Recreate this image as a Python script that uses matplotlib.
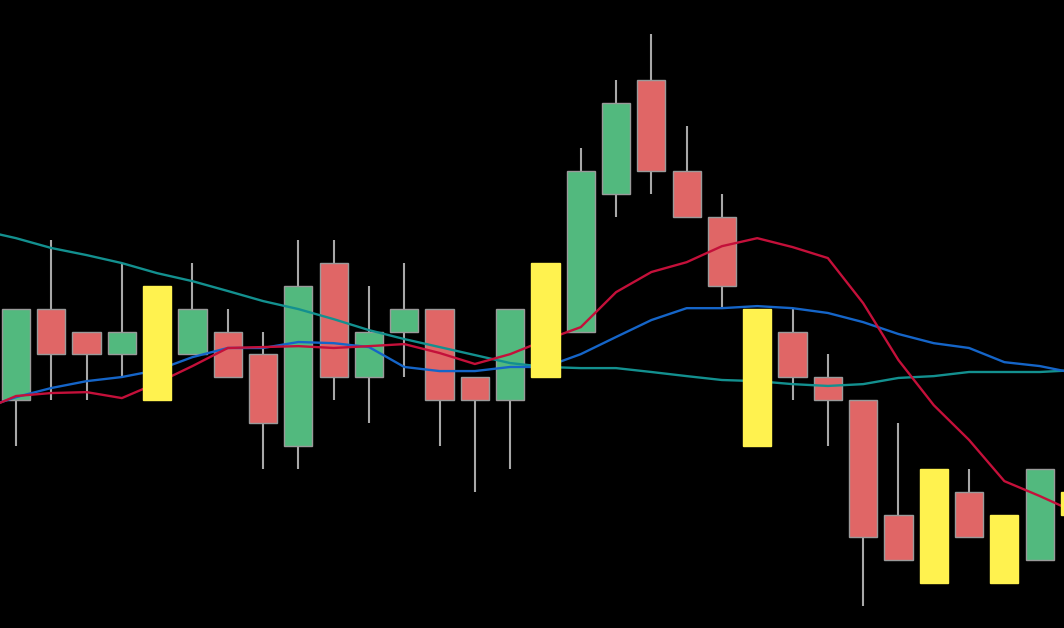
import numpy as np
import matplotlib
matplotlib.use("Agg")
import matplotlib.pyplot as plt

# candles (price levels), index 0..30
opens  = [9, 13, 12, 11, 14, 11, 12, 11, 7, 15, 10, 12, 13, 10, 9, 15, 12, 18, 23, 19, 17, 13, 12, 10, 9, 4, 6, 5, 4, 2, 5]
highs  = [13, 16, 12, 15, 14, 15, 13, 12, 16, 16, 14, 15, 13, 10, 13, 15, 20, 23, 25, 21, 18, 13, 13, 11, 9, 8, 6, 6, 4, 6, 5]
lows   = [7, 9, 9, 10, 9, 11, 10, 6, 6, 9, 8, 10, 7, 5, 6, 10, 12, 17, 18, 17, 13, 7, 9, 7, 0, 2, 1, 3, 1, 2, 4]
closes = [13, 11, 11, 12, 9, 13, 10, 8, 14, 10, 12, 13, 9, 9, 13, 10, 19, 22, 19, 17, 14, 7, 10, 9, 3, 2, 1, 3, 1, 6, 4]
signal = [0, 0, 0, 0, 1, 0, 0, 0, 0, 0, 0, 0, 0, 0, 0, 1, 0, 0, 0, 0, 0, 1, 0, 0, 0, 0, 1, 0, 1, 0, 1]

# moving averages, index -1..30
ma_long = [16.43, 16.08, 15.65, 15.34, 14.99, 14.55, 14.20, 13.77, 13.33, 12.98, 12.54, 12.06,
           11.67, 11.32, 10.97, 10.62, 10.45, 10.40, 10.40, 10.23, 10.05, 9.88, 9.83, 9.70,
           9.62, 9.70, 9.97, 10.05, 10.23, 10.23, 10.23, 10.31]
ma_mid = [8.61, 9.13, 9.53, 9.83, 10.01, 10.31, 10.88, 11.28, 11.28, 11.54, 11.49, 11.32,
          10.45, 10.27, 10.27, 10.45, 10.45, 11.01, 11.76, 12.50, 13.02, 13.02, 13.11, 13.02,
          12.81, 12.41, 11.89, 11.49, 11.28, 10.66, 10.49, 10.18]
ma_short = [8.52, 9.18, 9.31, 9.35, 9.09, 9.75, 10.49, 11.28, 11.32, 11.36, 11.28, 11.36,
            11.45, 11.06, 10.58, 11.01, 11.63, 12.19, 13.72, 14.60, 15.03, 15.73, 16.08, 15.69,
            15.21, 13.24, 10.75, 8.78, 7.26, 5.46, 4.81, 4.11]

green = "#52b97e"
red = "#e06666"
yellow = "#fff24f"

fig = plt.figure(figsize=(10.64, 6.28), dpi=100)
fig.patch.set_facecolor("black")
ax = fig.add_axes([0, 0, 1, 1])
ax.set_facecolor("black")

x = np.arange(len(opens))
o = np.array(opens); c = np.array(closes)
lo = np.minimum(o, c); hi = np.maximum(o, c)

for i in x:
    if signal[i]:
        col, z = yellow, 5
        ec = yellow
    else:
        col = green if c[i] > o[i] else red
        z = 2
        ec = "#9a9a9a"
    ax.vlines(i, lows[i], highs[i], color="#a8a8a8", linewidth=1.5, zorder=z - 0.5)
    ax.bar(i, hi[i] - lo[i], bottom=lo[i], width=0.8, color=col,
           edgecolor=ec, linewidth=1, zorder=z)

xm = np.arange(-1, len(opens))
ax.plot(xm, ma_long, color="#13908f", linewidth=1.7, zorder=3)
ax.plot(xm, ma_mid, color="#1565c8", linewidth=1.7, zorder=3)
ax.plot(xm, ma_short, color="#c4103a", linewidth=1.7, zorder=3)

ax.set_xlim(-0.453, 29.69)
ax.set_ylim(-0.96, 26.49)
ax.axis("off")

fig.savefig("out.png", dpi=100, facecolor="black")
